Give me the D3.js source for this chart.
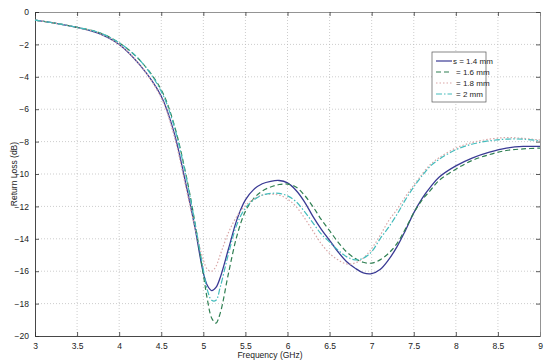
<!DOCTYPE html>
<html>
<head>
<meta charset="utf-8">
<script src="https://cdn.jsdelivr.net/npm/d3@7"></script>
<style>
  body { margin: 0; background: #fff; }
  text { font-family: "Liberation Sans Narrow", "Liberation Sans", Arial, sans-serif; }
</style>
</head>
<body>
<div class="chart"></div>
<script>
// frequency samples (GHz)
const freq = [3, 3.25, 3.5, 3.75, 4, 4.25, 4.5, 4.65, 4.8, 4.9, 5, 5.05, 5.1, 5.15, 5.2, 5.3, 5.4, 5.5,
  5.6, 5.7, 5.8, 5.9, 6, 6.1, 6.2, 6.3, 6.4, 6.5, 6.6, 6.7, 6.8, 6.9, 7, 7.1, 7.2, 7.3, 7.4, 7.5,
  7.6, 7.7, 7.8, 8, 8.2, 8.4, 8.6, 8.8, 9];

// return loss (dB) for each s value
const s14 = [-0.5, -0.7, -0.95, -1.3, -2.0, -3.3, -5.2, -7.4, -10.8, -13.3, -16.1, -16.9, -17.2, -17.0, -16.4, -14.6, -12.8, -11.6,
  -10.95, -10.6, -10.45, -10.4, -10.55, -11.0, -11.7, -12.6, -13.4, -14.1, -14.8, -15.4, -15.8, -16.1, -16.15, -15.9, -15.3, -14.5, -13.5, -12.4,
  -11.5, -10.8, -10.2, -9.5, -9.0, -8.65, -8.4, -8.3, -8.3];
const s16 = [-0.5, -0.7, -0.95, -1.25, -1.9, -3.0, -4.8, -6.9, -10.2, -13.0, -16.2, -17.8, -18.9, -19.2, -18.6, -16.1, -13.8, -12.3,
  -11.5, -11.05, -10.8, -10.65, -10.62, -10.8, -11.3, -12.0, -12.8, -13.5, -14.2, -14.8, -15.2, -15.45, -15.5, -15.3, -14.9, -14.3, -13.4, -12.4,
  -11.6, -11.0, -10.4, -9.7, -9.15, -8.8, -8.55, -8.45, -8.4];
const s18 = [-0.5, -0.7, -0.95, -1.3, -2.0, -3.3, -5.3, -7.6, -11.0, -13.3, -15.3, -15.9, -16.0, -15.7, -15.0, -13.6, -12.6, -11.95,
  -11.55, -11.3, -11.25, -11.3, -11.55, -12.0, -12.7, -13.5, -14.3, -14.9, -15.3, -15.55, -15.5, -15.2, -14.6, -13.8, -12.9, -12.2, -11.4, -10.7,
  -10.0, -9.4, -9.0, -8.4, -8.05, -7.85, -7.75, -7.8, -7.9];
const s20 = [-0.5, -0.7, -0.95, -1.25, -1.9, -3.0, -4.9, -7.0, -10.3, -13.0, -15.9, -17.2, -17.8, -17.8, -17.0, -14.9, -13.1, -12.1,
  -11.6, -11.3, -11.2, -11.2, -11.35, -11.7, -12.3, -13.0, -13.7, -14.2, -14.7, -15.1, -15.3, -15.2, -14.8, -14.0, -13.3, -12.5, -11.6, -10.8,
  -10.1, -9.5, -9.1, -8.5, -8.15, -7.95, -7.85, -7.85, -7.95];

const seriesNames = ["s = 1.4 mm", "= 1.6 mm", "= 1.8 mm", "= 2 mm"];
const seriesValues = [s14, s16, s18, s20];
const seriesColors = ["#3a3a94", "#2f7f52", "#d9a6a6", "#44bcbc"];
const seriesDash = [null, "5,3", "1.5,2", "6,2,1.5,2"];

const xTicks = [3, 3.5, 4, 4.5, 5, 5.5, 6, 6.5, 7, 7.5, 8, 8.5, 9];
const yTicks = [0, -2, -4, -6, -8, -10, -12, -14, -16, -18, -20];

const width = 547, height = 362;
const margin = ({ top: 12, right: 7, bottom: 26, left: 35 });

var svg = d3.select(".chart").append("svg")
    .attr("width", width)
    .attr("height", height);

var x = d3.scaleLinear().domain([3, 9]).range([margin.left, width - margin.right]);
var y = d3.scaleLinear().domain([-20, 0]).range([height - margin.bottom, margin.top]);

// grid
var grid = svg.append("g").attr("stroke", "#b8b8b8").attr("stroke-width", 0.7).attr("stroke-dasharray", "1,2");
grid.selectAll(".gx").data(xTicks.slice(1, -1)).join("line")
    .attr("x1", d => x(d)).attr("x2", d => x(d))
    .attr("y1", y(-20)).attr("y2", y(0));
grid.selectAll(".gy").data(yTicks.slice(1, -1)).join("line")
    .attr("x1", x(3)).attr("x2", x(9))
    .attr("y1", d => y(d)).attr("y2", d => y(d));

// axes (matlab style, ticks inside)
var xAxis = svg.append("g").attr("transform", `translate(0, ${y(-20)})`)
    .call(d3.axisBottom(x).tickValues(xTicks).tickSize(-4).tickPadding(7).tickFormat(d3.format("")));
var xTop = svg.append("g").attr("transform", `translate(0, ${y(0)})`)
    .call(d3.axisTop(x).tickValues(xTicks).tickSize(-4).tickFormat(""));
var yAxis = svg.append("g").attr("transform", `translate(${x(3)}, 0)`)
    .call(d3.axisLeft(y).tickValues(yTicks).tickSize(-4).tickPadding(6).tickFormat(d3.format("")));
var yRight = svg.append("g").attr("transform", `translate(${x(9)}, 0)`)
    .call(d3.axisRight(y).tickValues(yTicks).tickSize(-4).tickFormat(""));

[xAxis, xTop, yAxis, yRight].forEach(g => {
    g.selectAll("path").attr("stroke", "#333").attr("stroke-width", 0.9);
    g.selectAll("line").attr("stroke", "#333").attr("stroke-width", 0.8);
    g.selectAll("text").attr("font-size", 8.5).attr("fill", "#222");
});
xTop.select("path").attr("stroke", "#888");
yRight.select("path").attr("stroke", "#888");

// curves
var line = d3.line()
    .x((d, i) => x(freq[i]))
    .y(d => y(d))
    .curve(d3.curveCatmullRom.alpha(0.5));

svg.append("g").selectAll("path")
    .data(seriesValues)
    .join("path")
    .attr("d", line)
    .attr("fill", "none")
    .attr("stroke", (d, i) => seriesColors[i])
    .attr("stroke-width", (d, i) => i === 0 ? 1.3 : 1.2)
    .attr("stroke-dasharray", (d, i) => seriesDash[i]);

// legend
var lg = svg.append("g").attr("transform", "translate(432, 52)");
lg.append("rect").attr("width", 54).attr("height", 50)
    .attr("fill", "#fff").attr("stroke", "#555").attr("stroke-width", 0.7);
var item = lg.selectAll(".item").data(seriesNames).join("g")
    .attr("transform", (d, i) => `translate(0, ${9 + i * 11})`);
item.append("line")
    .attr("x1", 4).attr("x2", 20).attr("y1", 0).attr("y2", 0)
    .attr("stroke", (d, i) => seriesColors[i])
    .attr("stroke-width", 1.2)
    .attr("stroke-dasharray", (d, i) => seriesDash[i]);
item.append("text")
    .attr("x", (d, i) => i === 0 ? 21 : 24).attr("y", 3)
    .attr("font-size", 8).attr("fill", "#222")
    .text(d => d);

// axis titles
svg.append("text")
    .attr("x", 270).attr("y", 358)
    .attr("text-anchor", "middle").attr("font-size", 8.5).attr("fill", "#222")
    .text("Frequency (GHz)");
svg.append("text")
    .attr("transform", "translate(17, 174) rotate(-90)")
    .attr("text-anchor", "middle").attr("font-size", 8.5).attr("fill", "#222")
    .text("Return Loss (dB)");
</script>
</body>
</html>
